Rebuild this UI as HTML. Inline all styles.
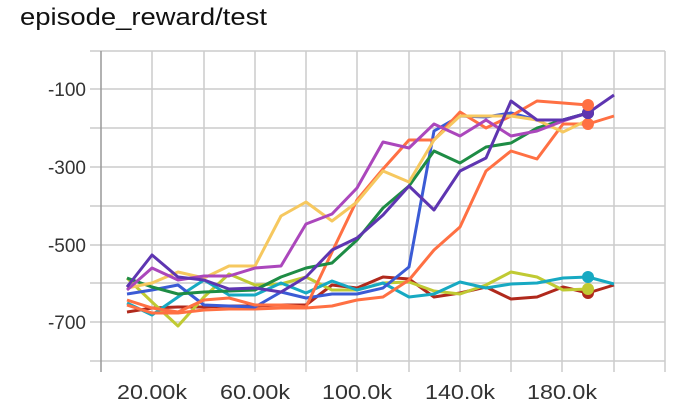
<!DOCTYPE html>
<html><head><meta charset="utf-8"><style>
body{margin:0;background:#fff;width:699px;height:408px;overflow:hidden;font-family:"Liberation Sans",sans-serif}
</style></head><body>
<svg width="699" height="408" xmlns="http://www.w3.org/2000/svg">
<text x="20" y="25" font-size="24" fill="#111" textLength="247" lengthAdjust="spacingAndGlyphs">episode_reward/test</text>
<g stroke="#ccc" stroke-width="1.5">
<line x1="90" y1="51" x2="665" y2="51"/><line x1="90" y1="89" x2="665" y2="89"/><line x1="90" y1="128" x2="665" y2="128"/><line x1="90" y1="167" x2="665" y2="167"/><line x1="90" y1="206" x2="665" y2="206"/><line x1="90" y1="245" x2="665" y2="245"/><line x1="90" y1="283" x2="665" y2="283"/><line x1="90" y1="322" x2="665" y2="322"/><line x1="90" y1="361" x2="665" y2="361"/>
<line x1="152" y1="51" x2="152" y2="372"/><line x1="204" y1="51" x2="204" y2="372"/><line x1="255" y1="51" x2="255" y2="372"/><line x1="306" y1="51" x2="306" y2="372"/><line x1="357" y1="51" x2="357" y2="372"/><line x1="409" y1="51" x2="409" y2="372"/><line x1="460" y1="51" x2="460" y2="372"/><line x1="511" y1="51" x2="511" y2="372"/><line x1="562" y1="51" x2="562" y2="372"/><line x1="614" y1="51" x2="614" y2="372"/><line x1="665" y1="51" x2="665" y2="372"/>
</g>
<line x1="101" y1="51" x2="101" y2="372" stroke="#999" stroke-width="1.5"/>
<g font-size="19" fill="#333" text-anchor="end">
<text x="86" y="96">-100</text><text x="86" y="174">-300</text><text x="86" y="252">-500</text><text x="86" y="329">-700</text>
</g>
<g font-size="20" fill="#333" text-anchor="middle">
<text x="152" y="399" textLength="70" lengthAdjust="spacingAndGlyphs">20.00k</text><text x="255" y="399" textLength="70" lengthAdjust="spacingAndGlyphs">60.00k</text><text x="357" y="399" textLength="70" lengthAdjust="spacingAndGlyphs">100.0k</text><text x="460" y="399" textLength="70" lengthAdjust="spacingAndGlyphs">140.0k</text><text x="562" y="399" textLength="70" lengthAdjust="spacingAndGlyphs">180.0k</text>
</g>
<g fill="none" stroke-width="3" stroke-linejoin="round">
<polyline stroke="#b0291c" points="127,312 152,308 178,307 204,307 229,306 255,306 281,305 306,305 332,285 357,288 383,277 409,279 434,297 460,293 486,287 511,299 537,297 563,287 588,293 614,285"/>
<polyline stroke="#c0ca33" points="127,278 152,302 178,326 204,297 229,274 255,285 281,284 306,277 332,290 357,290 383,283 409,282 434,291 460,294 486,285 511,272 537,277 563,290 588,289"/>
<polyline stroke="#17a9c2" points="127,303 152,315 178,297 204,280 229,295 255,295 281,283 306,293 332,281 357,290 383,283 409,297 434,294 460,282 486,288 511,284 537,283 563,278 588,277 614,284"/>
<polyline stroke="#ff7043" points="127,305 152,313 178,313 204,310 229,309 255,309 281,308 306,308 332,306 357,300 383,297 409,280 434,250 460,227 486,171 511,151 537,159 563,124 588,124 614,116"/>
<polyline stroke="#3b5bd5" points="127,294 152,290 178,285 204,305 229,306 255,307 281,292 306,298 332,294 357,294 383,288 409,267 434,131 460,116 486,117 511,113 537,120 563,120 588,113"/>
<polyline stroke="#ff7043" points="127,300 152,308 178,312 204,300 229,298 255,305 281,305 306,307 332,252 357,200 383,169 409,140 434,140 460,112 486,128 511,116 537,101 563,103 588,105"/>
<polyline stroke="#1e8c45" points="127,278 152,287 178,294 204,292 229,291 255,290 281,277 306,268 332,263 357,240 383,208 409,186 434,151 460,163 486,147 511,143 537,128 563,120 588,113"/>
<polyline stroke="#f6c85f" points="127,288 152,283 178,272 204,278 229,266 255,266 281,216 306,202 332,221 357,202 383,171 409,182 434,140 460,116 486,116 511,116 537,120 563,132 588,120"/>
<polyline stroke="#ab47bc" points="127,290 152,268 178,280 204,276 229,276 255,268 281,266 306,224 332,214 357,188 383,142 409,148 434,124 460,136 486,120 511,136 537,131 563,121 588,113"/>
<polyline stroke="#5e35b1" points="127,287 152,255 178,277 204,280 229,289 255,288 281,292 306,277 332,250 357,238 383,215 409,186 434,210 460,171 486,158 511,101 537,120 563,120 588,113 614,95"/>
</g>
<g>
<circle cx="588" cy="293" r="6" fill="#b0291c"/><circle cx="588" cy="289" r="6" fill="#c0ca33"/><circle cx="588" cy="277" r="6" fill="#17a9c2"/>
<circle cx="588" cy="124" r="6" fill="#ff7043"/><circle cx="588" cy="113" r="6" fill="#3b5bd5"/><circle cx="588" cy="113" r="6" fill="#1e8c45"/><circle cx="588" cy="113" r="6" fill="#5e35b1"/><circle cx="588" cy="105" r="6" fill="#ff7043"/>
</g>
</svg>
</body></html>
